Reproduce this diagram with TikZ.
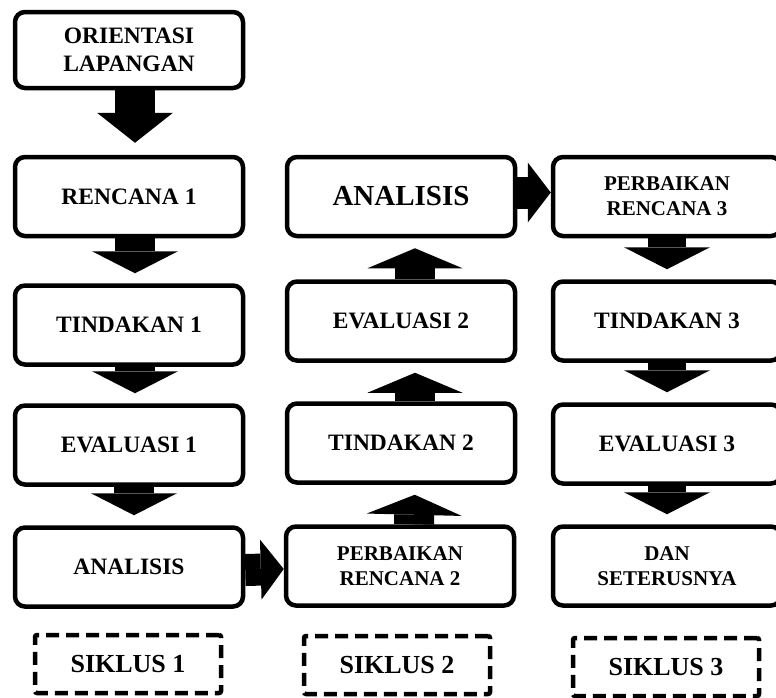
\documentclass[tikz,border=0pt]{standalone}
\usepackage{fontspec}
\setmainfont{Liberation Serif}
\usetikzlibrary{arrows.meta}

\begin{document}
\begin{tikzpicture}[
	x=1pt, y=-1pt,
	box/.style={
		rectangle,
		draw=black,
		line width=4.5pt,
		align=center,
		rounded corners=10pt,
		fill=white,
		minimum height=79pt,
		minimum width=228pt,
		font=\bfseries\fontsize{23.5}{28}\selectfont
	},
	small/.style={
		font=\bfseries\fontsize{21}{25}\selectfont
	},
	cycle/.style={
		rectangle,
		draw=black,
		line width=4.5pt,
		dash pattern=on 13pt off 7pt,
		rounded corners=2pt,
		minimum height=58pt,
		minimum width=186pt,
		font=\bfseries\fontsize{26}{30}\selectfont
	},
	down/.style={
		line width=40pt,
		-{Triangle[length=22pt,width=86pt,line width'=0pt]},
		shorten >=10pt
	},
	side/.style={
		line width=32pt,
		-{Triangle[length=23pt,width=60pt,line width'=0pt]}
	},
]

\useasboundingbox (0,0) rectangle (776,697);
\clip (0,0) rectangle (776,697);

% Siklus 1
\node[box,minimum height=76pt] (ori) at (129, 50) {ORIENTASI\\LAPANGAN};
\node[box] (ren1) at (129, 196.5) {RENCANA 1};
\node[box] (tin1) at (129, 325) {TINDAKAN 1};
\node[box] (eva1) at (129, 445) {EVALUASI 1};
\node[box] (ana1) at (129, 567) {ANALISIS};

% Siklus 2
\node[box,small] (per2) at (400, 566) {PERBAIKAN\\RENCANA 2};
\node[box] (tin2) at (401, 443) {TINDAKAN 2};
\node[box] (eva2) at (401, 321) {EVALUASI 2};
\node[box,font=\bfseries\fontsize{29}{34}\selectfont] (ana2) at (401, 196.5) {ANALISIS};

% Siklus 3
\node[box,small] (per3) at (667, 196.5) {PERBAIKAN\\RENCANA 3};
\node[box] (tin3) at (667, 321) {TINDAKAN 3};
\node[box] (eva3) at (667, 444) {EVALUASI 3};
\node[box,small] (dan) at (667, 566) {DAN\\SETERUSNYA};

% Label siklus
\node[cycle] (sik1) at (128, 664) {SIKLUS 1};
\node[cycle] (sik2) at (397, 665) {SIKLUS 2};
\node[cycle] (sik3) at (666, 667) {SIKLUS 3};

% Panah siklus 1
\draw[down,-{Triangle[length=30pt,width=76pt,line width'=0pt]},shorten >=12pt]
	([xshift=6pt]ori.south) -- ([xshift=6pt]ren1.north);
\draw[down] ([xshift=6pt]ren1.south) -- ([xshift=6pt]tin1.north);
\draw[down] ([xshift=6pt]tin1.south) -- ([xshift=6pt]eva1.north);
\draw[down] ([xshift=5pt]eva1.south) -- ([xshift=5pt]ana1.north);

% Panah siklus 2
\draw[down,-{Triangle[length=20pt,width=95pt,line width'=0pt]}]
	([xshift=14pt]per2.north) -- ([xshift=14pt]tin2.south);
\draw[down,-{Triangle[length=20pt,width=95pt,line width'=0pt]}]
	([xshift=14pt]tin2.north) -- ([xshift=14pt]eva2.south);
\draw[down,-{Triangle[length=20pt,width=95pt,line width'=0pt]}]
	([xshift=14pt]eva2.north) -- ([xshift=14pt]ana2.south);

% Panah siklus 3
\draw[down,line width=38pt] (per3.south) -- (tin3.north);
\draw[down,line width=38pt] (tin3.south) -- (eva3.north);
\draw[down,line width=38pt] (eva3.south) -- (dan.north);

% Antar siklus
\draw[side] ([yshift=-3pt]ana1.east) -- ([yshift=-3pt]per2.west);
\draw[side] ([yshift=4pt]ana2.east) -- ([yshift=4pt]per3.west);

\end{tikzpicture}
\end{document}
